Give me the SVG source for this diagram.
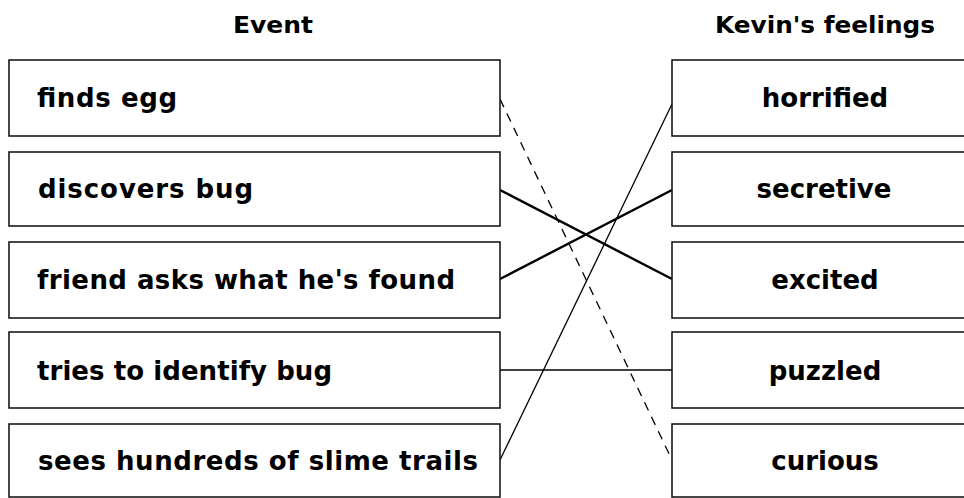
<svg xmlns="http://www.w3.org/2000/svg" width="964" height="498" viewBox="0 0 964 498">
<style>
.box{fill:#fff;stroke:#1a1a1a;stroke-width:1.6}
.t{font-family:"DejaVu Sans",Verdana,sans-serif;font-weight:bold;font-size:26px;fill:#000}
.h{font-family:"DejaVu Sans",Verdana,sans-serif;font-weight:bold;font-size:23px;fill:#000;text-anchor:middle}
.r{text-anchor:middle}
.ln{stroke:#000;fill:none}
.thick{stroke-width:2.4}
.thin{stroke-width:1.3}
.dash{stroke-width:1.3;stroke-dasharray:9 7}
</style>
<rect width="964" height="498" fill="#fff"/>
<text class="h" x="273" y="33" textLength="80" lengthAdjust="spacingAndGlyphs">Event</text>
<text class="h" x="825" y="33" textLength="220" lengthAdjust="spacingAndGlyphs">Kevin's feelings</text>
<g id="connectors">
<line class="ln dash" x1="500" y1="99" x2="672" y2="460"/>
<line class="ln thick" x1="500" y1="190" x2="672" y2="279"/>
<line class="ln thick" x1="500" y1="279" x2="672" y2="190"/>
<line class="ln thin" x1="500" y1="370" x2="672" y2="370"/>
<line class="ln thin" x1="500" y1="460" x2="672" y2="104"/>
</g>
<g id="e1"><rect class="box" x="9" y="60" width="491" height="76"/><text class="t" x="37" y="107" textLength="140" lengthAdjust="spacing">finds egg</text></g>
<g id="e2"><rect class="box" x="9" y="152" width="491" height="74"/><text class="t" x="38" y="198" textLength="215" lengthAdjust="spacing">discovers bug</text></g>
<g id="e3"><rect class="box" x="9" y="242" width="491" height="76"/><text class="t" x="37" y="289" textLength="418" lengthAdjust="spacing">friend asks what he's found</text></g>
<g id="e4"><rect class="box" x="9" y="332" width="491" height="76"/><text class="t" x="37" y="380" textLength="295" lengthAdjust="spacing">tries to identify bug</text></g>
<g id="e5"><rect class="box" x="9" y="424" width="491" height="73"/><text class="t" x="38" y="470" textLength="440" lengthAdjust="spacing">sees hundreds of slime trails</text></g>
<g id="f1"><rect class="box" x="672" y="60" width="300" height="76"/><text class="t r" x="825" y="107">horrified</text></g>
<g id="f2"><rect class="box" x="672" y="152" width="300" height="74"/><text class="t r" x="824" y="198">secretive</text></g>
<g id="f3"><rect class="box" x="672" y="242" width="300" height="76"/><text class="t r" x="825" y="289">excited</text></g>
<g id="f4"><rect class="box" x="672" y="332" width="300" height="76"/><text class="t r" x="825" y="380">puzzled</text></g>
<g id="f5"><rect class="box" x="672" y="424" width="300" height="73"/><text class="t r" x="825" y="470">curious</text></g>
</svg>
